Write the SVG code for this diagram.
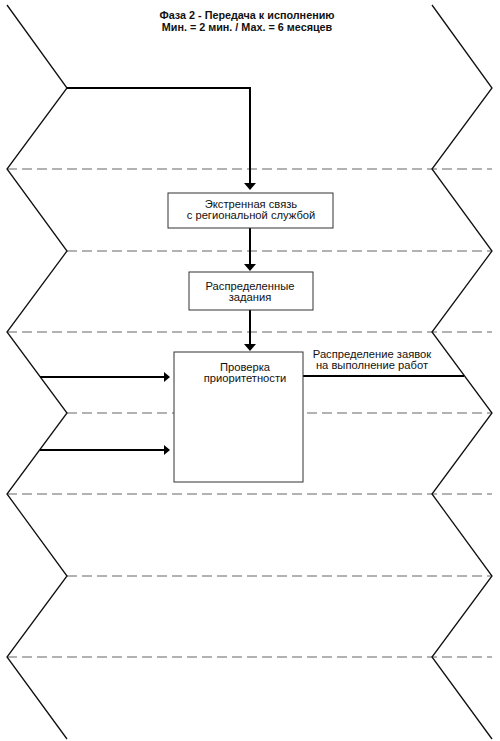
<svg xmlns="http://www.w3.org/2000/svg" width="500" height="741" viewBox="0 0 500 741">
<style>
text{font-family:"Liberation Sans",Arial,sans-serif;font-size:11.2px;fill:#111;text-anchor:middle}
.title{font-weight:bold;font-size:10.8px}
.zig{fill:none;stroke:#111;stroke-width:1.3}
.dash{stroke:#999;stroke-width:1.5;stroke-dasharray:10,5;fill:none}
.box{fill:#fff;stroke:#333;stroke-width:1}
.conn{fill:none;stroke:#000;stroke-width:2}
.head{fill:#000}
</style>
<rect width="500" height="741" fill="#fff"/>
<g id="lanes">
<path class="dash" d="M7 169H492M67 251H492M7 332H492M67 413H492M7 494H492M67 576H492M7 657H492"/>
<polyline class="zig" points="7,5 67,88 7,169 67,251 7,332 67,413 7,494 67,576 7,657 67,739"/>
<polyline class="zig" points="432,5 492,88 432,169 492,251 432,332 492,413 432,494 492,576 432,657 492,739"/>
</g>
<g id="title">
<text class="title" x="247" y="19">Фаза 2 - Передача к исполнению</text>
<text class="title" x="247" y="31">Мин. = 2 мин. / Мах. = 6 месяцев</text>
</g>
<g id="connectors">
<polyline class="conn" points="67,88 250,88 250,184"/>
<polygon class="head" points="244,183 256,183 250,190"/>
<line class="conn" x1="250" y1="228" x2="250" y2="265"/>
<polygon class="head" points="244,264 256,264 250,271"/>
<line class="conn" x1="250" y1="310" x2="250" y2="345"/>
<polygon class="head" points="244,344 256,344 250,351"/>
<line class="conn" x1="40" y1="377" x2="165" y2="377"/>
<polygon class="head" points="164,372 164,382 170,377"/>
<line class="conn" x1="40" y1="450" x2="165" y2="450"/>
<polygon class="head" points="164,445 164,455 170,450"/>
<line class="conn" x1="303" y1="376" x2="464" y2="376"/>
<text x="372" y="358">Распределение заявок</text>
<text x="372" y="369">на выполнение работ</text>
</g>
<g id="node1">
<rect class="box" x="168" y="193" width="165" height="35"/>
<text x="251" y="208">Экстренная связь</text>
<text x="251" y="219">с региональной службой</text>
</g>
<g id="node2">
<rect class="box" x="189" y="272" width="124" height="38"/>
<text x="250" y="290">Распределенные</text>
<text x="250" y="301">задания</text>
</g>
<g id="node3">
<rect class="box" x="174" y="352" width="129" height="130"/>
<text x="245" y="371">Проверка</text>
<text x="245" y="382">приоритетности</text>
</g>
</svg>
